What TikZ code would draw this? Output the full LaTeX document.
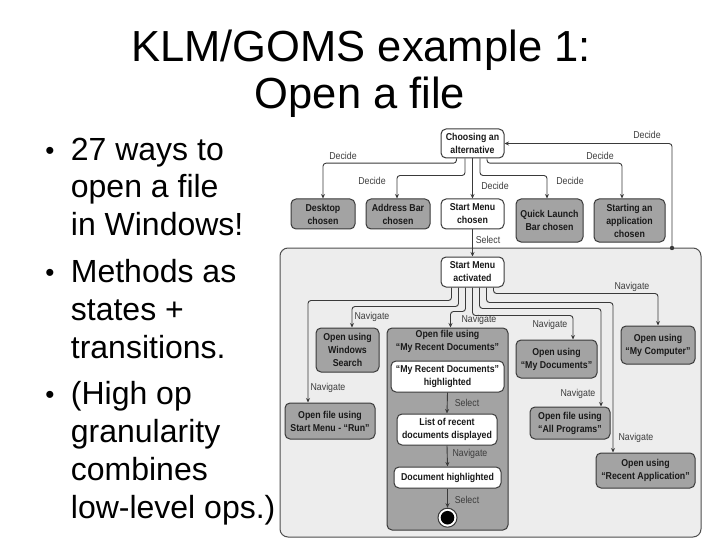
\documentclass[tikz,border=0pt]{standalone}
\usepackage{fontspec}
\setmainfont{Liberation Sans}
\newfontfamily\nf[FakeStretch=0.88]{Liberation Sans}
\usetikzlibrary{arrows.meta}
\definecolor{boxgray}{HTML}{A3A3A3}
\definecolor{framegray}{HTML}{EDEDED}
\definecolor{edgecol}{HTML}{3A3A3A}
\definecolor{lblcol}{HTML}{3C3C3C}
\tikzset{
  st/.style={draw=edgecol, line width=1pt, rounded corners=5pt, align=center, inner sep=0pt,
    font=\nf\fontsize{10}{13}\selectfont\bfseries, text=black!90},
  gst/.style={st, fill=boxgray},
  wst/.style={st, fill=white},
  arr/.style={draw=edgecol, line width=0.9pt, rounded corners=3pt, -{Stealth[length=4.5pt,width=4pt]}},
  lbl/.style={font=\nf\fontsize{10}{12}\selectfont, text=lblcol, inner sep=0pt},
  ttl/.style={anchor=base, inner sep=0pt, font=\fontsize{43.5}{50}\selectfont},
  btxt/.style={anchor=base west, inner sep=0pt, font=\fontsize{32}{38}\selectfont},
  bul/.style={anchor=base, inner sep=0pt, font=\fontsize{26}{30}\selectfont},
}
\begin{document}
\begin{tikzpicture}[x=1pt,y=-1pt]
\useasboundingbox (0,0) rectangle (720,540);
% title
\node[ttl] (t1) at (361,62) {KLM/GOMS example 1:};
\node[ttl] (t2) at (360,109) {Open a file};
% bullets
\node[bul] (b1) at (50,160) {•};
\node[btxt] (x1) at (70.7,161) {27 ways to};
\node[btxt] (x2) at (70.7,198) {open a file};
\node[btxt] (x3) at (70.7,236) {in Windows!};
\node[bul] (b2) at (50,281) {•};
\node[btxt] (x4) at (70.7,282) {Methods as};
\node[btxt] (x5) at (70.7,320) {states +};
\node[btxt] (x6) at (70.7,358) {transitions.};
\node[bul] (b3) at (50,403) {•};
\node[btxt] (x7) at (70.7,404) {(High op};
\node[btxt] (x8) at (70.7,442) {granularity};
\node[btxt] (x9) at (70.7,480) {combines};
\node[btxt] (x10) at (70.7,518) {low-level ops.)};

% big frame
\node[draw=edgecol!90, line width=1pt, fill=framegray, rounded corners=8pt, inner sep=0pt,
  minimum width=421pt, minimum height=289pt] (frame) at (490.5,392.5) {};

% top states
\node[wst, minimum width=63pt, minimum height=29pt] (choose) at (472.5,143.5) {Choosing an\\alternative};
\node[gst, minimum width=64pt, minimum height=30pt] (desk) at (323,214) {Desktop\\chosen};
\node[gst, minimum width=64pt, minimum height=30pt] (addr) at (398,214) {Address Bar\\chosen};
\node[wst, minimum width=63pt, minimum height=30pt] (smc) at (472.5,214) {Start Menu\\chosen};
\node[gst, minimum width=67pt, minimum height=43pt] (qlb) at (549.5,220.5) {Quick Launch\\Bar chosen};
\node[gst, minimum width=71pt, minimum height=43pt] (sapp) at (629.5,220.5) {Starting an\\application\\chosen};

% inner states
\node[wst, minimum width=63pt, minimum height=30pt] (sma) at (472.5,272) {Start Menu\\activated};
\node[gst, minimum width=63pt, minimum height=44pt] (wins) at (347.5,350) {Open using\\Windows\\Search};
\node[gst, minimum width=121pt, minimum height=202pt] (recent) at (447.5,429) {};
\node[st, draw=none, fill=none] (rtitle) at (447.5,341.5) {Open file using\\“My Recent Documents”};
\node[wst, minimum width=113pt, minimum height=31pt] (hl) at (447.5,376.5) {“My Recent Documents”\\highlighted};
\node[wst, minimum width=100pt, minimum height=31pt] (list) at (447,429.5) {List of recent\\documents displayed};
\node[wst, minimum width=107pt, minimum height=21pt] (dochl) at (447.5,477.5) {Document highlighted};
\node[circle, draw=edgecol, line width=1pt, fill=white, minimum size=19pt, inner sep=0pt] (endst) at (447.5,517.7) {};
\fill[black] (endst.center) circle (6.8pt);
\node[gst, minimum width=81pt, minimum height=38pt] (mydoc) at (556.5,359) {Open using\\“My Documents”};
\node[gst, minimum width=74pt, minimum height=38pt] (mycomp) at (658,345) {Open using\\“My Computer”};
\node[gst, minimum width=90pt, minimum height=36pt] (run) at (330,421) {Open file using\\Start Menu - “Run”};
\node[gst, minimum width=80pt, minimum height=32pt] (allp) at (570,423) {Open file using\\“All Programs”};
\node[gst, minimum width=99pt, minimum height=35pt] (recapp) at (645.5,470.5) {Open using\\“Recent Application”};

% decide arrows
\draw[arr] ([xshift=-16pt]choose.south) -- ++(0,4.7) -| (desk.north);
\draw[arr] ([xshift=-7.5pt]choose.south) -- ++(0,17) -| ([xshift=-1pt]addr.north);
\draw[arr] (choose.south) -- (smc.north);
\draw[arr] ([xshift=7.5pt]choose.south) -- ++(0,17) -| ([xshift=-2.5pt]qlb.north);
\draw[arr] ([xshift=14.5pt]choose.south) -- ++(0,4.7) -| ([xshift=-7.5pt]sapp.north);
\coordinate (bk) at (672,248);
\draw[arr] (bk) |- (choose.east);
\fill[edgecol] (bk) circle (2.2pt);
\draw[arr] (smc.south) -- (sma.north);

% navigate arrows
\draw[arr] ([xshift=-21pt]sma.south) -- ++(0,13) -| ([xshift=-22pt]run.north);
\draw[arr] ([xshift=-14pt]sma.south) -- ++(0,19) -| ([xshift=4.5pt]wins.north);
\draw[arr] ([xshift=-7pt]sma.south) -- ++(0,24) -| ([xshift=3pt]recent.north);
\draw[arr] (sma.south) -- ++(0,28) -| ([xshift=16.5pt]mydoc.north);
\draw[arr] ([xshift=7pt]sma.south) -- ++(0,21) -| ([xshift=31pt]allp.north);
\draw[arr] ([xshift=14pt]sma.south) -- ++(0,15) -| ([xshift=-32.5pt]recapp.north);
\draw[arr] ([xshift=21pt]sma.south) -- ++(0,6) -| (mycomp.north);

% inner arrows
\draw[arr] (hl.south) -- (list.north);
\draw[arr] (list.south) -- (dochl.north);
\draw[arr] (dochl.south) -- (endst.north);

% labels
\node[lbl] (d1) at (343,156) {Decide};
\node[lbl] (d2) at (372,181) {Decide};
\node[lbl] (d3) at (495,186) {Decide};
\node[lbl] (d4) at (570,181) {Decide};
\node[lbl] (d5) at (600,156) {Decide};
\node[lbl] (d6) at (647,135) {Decide};
\node[lbl] (s1) at (488,240) {Select};
\node[lbl] (n1) at (632,287) {Navigate};
\node[lbl] (n2) at (372,317) {Navigate};
\node[lbl] (n3) at (479,320) {Navigate};
\node[lbl] (n4) at (550,325) {Navigate};
\node[lbl] (n5) at (328,388) {Navigate};
\node[lbl] (n6) at (578,394) {Navigate};
\node[lbl] (n7) at (636,438) {Navigate};
\node[lbl] (s2) at (467,403) {Select};
\node[lbl] (n8) at (470,454) {Navigate};
\node[lbl] (s3) at (467,500) {Select};
\end{tikzpicture}
\end{document}
